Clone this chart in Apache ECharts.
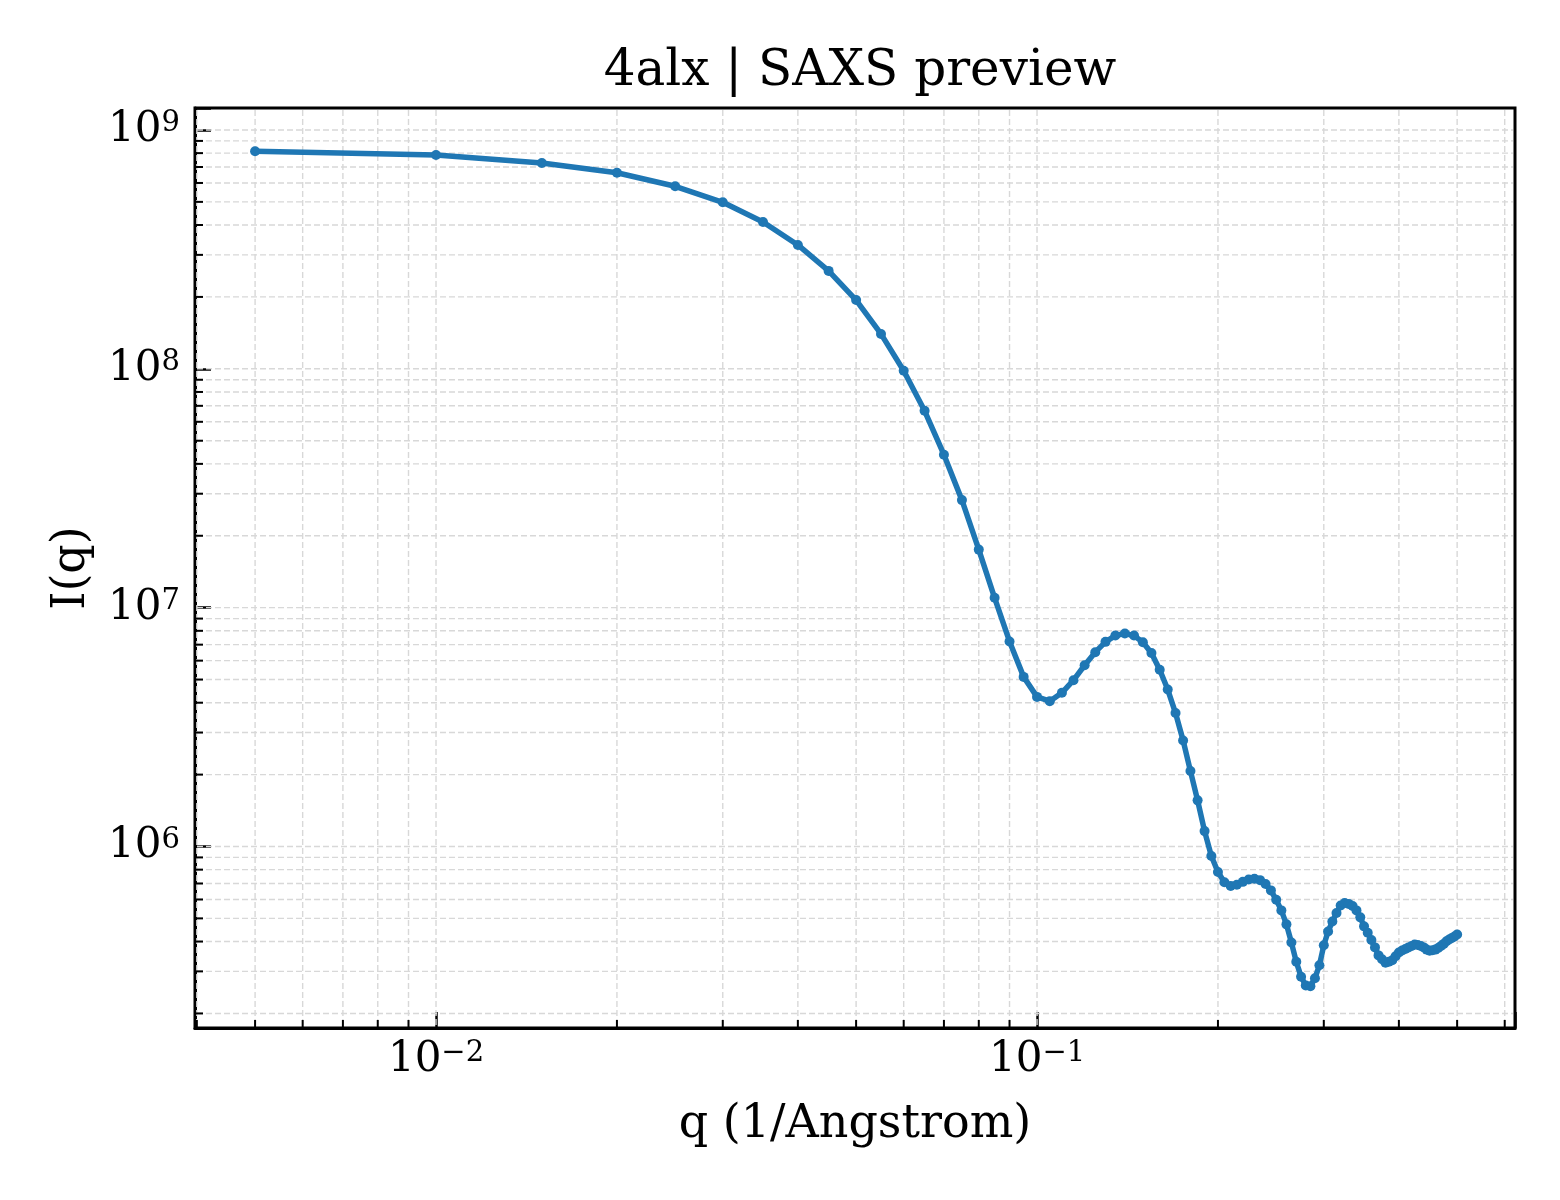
<!DOCTYPE html>
<html>
<head>
<meta charset="utf-8">
<title>4alx | SAXS preview</title>
<script src="https://cdn.jsdelivr.net/npm/echarts@6.0.0/dist/echarts.min.js"></script>
<style>
    html, body { margin: 0; padding: 0; background: #fff; }
    #chartmain { width: 1560px; height: 1200px; }
</style>
</head>
<body>
<div id="chartmain"></div>
<script>
// q (1/Angstrom)
var qValues = [
    0.005, 0.010, 0.015, 0.020, 0.025, 0.030, 0.035, 0.040, 0.045, 0.050,
    0.055, 0.060, 0.065, 0.070, 0.075, 0.080, 0.085, 0.090, 0.095, 0.100,
    0.105, 0.110, 0.115, 0.120, 0.125, 0.130, 0.135, 0.140, 0.145, 0.150,
    0.155, 0.160, 0.165, 0.170, 0.175, 0.180, 0.185, 0.190, 0.195, 0.200,
    0.205, 0.210, 0.215, 0.220, 0.225, 0.230, 0.235, 0.240, 0.245, 0.250,
    0.255, 0.260, 0.265, 0.270, 0.275, 0.280, 0.285, 0.290, 0.295, 0.300,
    0.305, 0.310, 0.315, 0.320, 0.325, 0.330, 0.335, 0.340, 0.345, 0.350,
    0.355, 0.360, 0.365, 0.370, 0.375, 0.380, 0.385, 0.390, 0.395, 0.400,
    0.405, 0.410, 0.415, 0.420, 0.425, 0.430, 0.435, 0.440, 0.445, 0.450,
    0.455, 0.460, 0.465, 0.470, 0.475, 0.480, 0.485, 0.490, 0.495, 0.500
];

// I(q)
var intensity = [
    8.15e8, 7.86e8, 7.27e8, 6.62e8, 5.81e8, 4.98e8, 4.12e8, 3.30e8, 2.57e8, 1.94e8,
    1.40e8, 9.82e7, 6.67e7, 4.37e7, 2.82e7, 1.75e7, 1.10e7, 7.22e6, 5.13e6, 4.23e6,
    4.06e6, 4.40e6, 4.97e6, 5.74e6, 6.51e6, 7.19e6, 7.64e6, 7.79e6, 7.64e6, 7.16e6,
    6.46e6, 5.50e6, 4.54e6, 3.62e6, 2.78e6, 2.07e6, 1.56e6, 1.16e6, 9.12e5, 7.82e5,
    7.09e5, 6.84e5, 6.92e5, 7.11e5, 7.28e5, 7.33e5, 7.23e5, 6.97e5, 6.55e5, 5.98e5,
    5.40e5, 4.72e5, 3.96e5, 3.29e5, 2.85e5, 2.62e5, 2.60e5, 2.81e5, 3.18e5, 3.86e5,
    4.41e5, 4.85e5, 5.27e5, 5.66e5, 5.80e5, 5.75e5, 5.63e5, 5.40e5, 5.05e5, 4.63e5,
    4.35e5, 4.06e5, 3.78e5, 3.50e5, 3.37e5, 3.26e5, 3.29e5, 3.34e5, 3.47e5, 3.60e5,
    3.67e5, 3.72e5, 3.78e5, 3.83e5, 3.89e5, 3.87e5, 3.83e5, 3.78e5, 3.70e5, 3.66e5,
    3.68e5, 3.70e5, 3.76e5, 3.83e5, 3.91e5, 4.01e5, 4.08e5, 4.14e5, 4.20e5, 4.28e5
];

// tick positions
var xMajorTicks = [0.01, 0.1];
var xMinorTicks = [0.004, 0.005, 0.006, 0.007, 0.008, 0.009,
    0.02, 0.03, 0.04, 0.05, 0.06, 0.07, 0.08, 0.09,
    0.2, 0.3, 0.4, 0.5, 0.6];
var yMajorTicks = [1e6, 1e7, 1e8, 1e9];
var yMinorTicks = [2e5, 3e5, 4e5, 5e5, 6e5, 7e5, 8e5, 9e5,
    2e6, 3e6, 4e6, 5e6, 6e6, 7e6, 8e6, 9e6,
    2e7, 3e7, 4e7, 5e7, 6e7, 7e7, 8e7, 9e7,
    2e8, 3e8, 4e8, 5e8, 6e8, 7e8, 8e8, 9e8];

var fontFam = 'DejaVu Serif';
var gridColor = '#d8d8d8';
var lineColor = '#1f77b4';

// 10^n label
function powLabel(value) {
    var e = Math.log(value) / Math.LN10;
    var n = Math.round(e);
    if (Math.abs(e - n) > 1e-6) return '';
    return '{b|10}{s|' + String(n).replace('-', '\u2212') + '}';
}
var labelRich = {
    b: { fontSize: 42, lineHeight: 42, fontFamily: fontFam, color: '#000' },
    s: { fontSize: 29, lineHeight: 22, fontFamily: fontFam, color: '#000', verticalAlign: 'top' }
};

// grid lines (major + minor) and minor ticks
function gridRender(dir, minor) {
    return function (params, api) {
        var cs = params.coordSys;
        var p = api.coord([api.value(0), api.value(1)]);
        var kids = [];
        if (dir === 'x') {
            var x = p[0];
            kids.push({ type: 'line', shape: { x1: x, y1: cs.y + 2, x2: x, y2: cs.y + cs.height - 2 },
                style: { stroke: gridColor, lineWidth: 1.4, lineDash: [6, 3] } });
            if (minor) kids.push({ type: 'line', shape: { x1: x, y1: cs.y + cs.height, x2: x, y2: cs.y + cs.height - 8 },
                style: { stroke: '#000', lineWidth: 2 } });
        } else {
            var y = p[1];
            kids.push({ type: 'line', shape: { x1: cs.x + 2, y1: y, x2: cs.x + cs.width - 2, y2: y },
                style: { stroke: gridColor, lineWidth: 1.4, lineDash: [6, 3] } });
            if (minor) kids.push({ type: 'line', shape: { x1: cs.x, y1: y, x2: cs.x + 8, y2: y },
                style: { stroke: '#000', lineWidth: 2 } });
        }
        return { type: 'group', children: kids };
    };
}

function gridSeries(dir, vals, minor) {
    return {
        type: 'custom',
        silent: true,
        z: 1,
        renderItem: gridRender(dir, minor),
        data: vals.map(function (v) { return dir === 'x' ? [v, 1e6] : [0.01, v]; })
    };
}

var myChart = echarts.init(document.getElementById('chartmain'), null, { renderer: 'canvas' });

var option = {
    animation: false,
    backgroundColor: '#fff',
    title: {
        text: '4alx | SAXS preview',
        left: 855,
        top: 42,
        textAlign: 'center',
        textStyle: { fontFamily: fontFam, fontSize: 50, fontWeight: 'normal', color: '#000' }
    },
    grid: {
        left: 195, right: 45, top: 108, bottom: 172,
        show: true, borderColor: '#000', borderWidth: 3, backgroundColor: 'transparent'
    },
    xAxis: {
        type: 'log',
        logBase: 10,
        min: 0.003972,
        max: 0.6241,
        name: 'q (1/Angstrom)',
        nameLocation: 'middle',
        nameGap: 74,
        nameTextStyle: { fontFamily: fontFam, fontSize: 46, color: '#000' },
        axisLine: { lineStyle: { color: '#000', width: 3 } },
        axisTick: { inside: true, length: 16, lineStyle: { color: '#000', width: 2.5 } },
        splitLine: { show: false },
        minorTick: { show: false },
        axisLabel: { margin: 11, formatter: powLabel, rich: labelRich, fontSize: 42, fontFamily: fontFam, color: '#000' }
    },
    yAxis: {
        type: 'log',
        logBase: 10,
        min: 1.738e5,
        max: 1.236e9,
        name: 'I(q)',
        nameLocation: 'middle',
        nameGap: 100,
        nameTextStyle: { fontFamily: fontFam, fontSize: 46, color: '#000' },
        axisLine: { lineStyle: { color: '#000', width: 3 } },
        axisTick: { inside: true, length: 16, lineStyle: { color: '#000', width: 2.5 } },
        splitLine: { show: false },
        minorTick: { show: false },
        axisLabel: { margin: 15, formatter: powLabel, rich: labelRich, fontSize: 42, fontFamily: fontFam, color: '#000' }
    },
    series: [
        gridSeries('x', xMajorTicks, false),
        gridSeries('x', xMinorTicks, true),
        gridSeries('y', yMajorTicks, false),
        gridSeries('y', yMinorTicks, true),
        {
            name: 'I(q)',
            type: 'line',
            z: 3,
            data: qValues.map(function (q, i) { return [q, intensity[i]]; }),
            symbol: 'circle',
            symbolSize: 10,
            showAllSymbol: true,
            lineStyle: { color: lineColor, width: 5.5 },
            itemStyle: { color: lineColor, borderWidth: 0 }
        }
    ]
};

myChart.setOption(option);
</script>
</body>
</html>
